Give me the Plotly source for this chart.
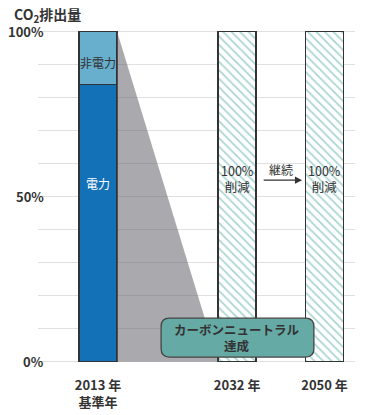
import plotly.graph_objects as go

# ---- data ----
categories = ["2013 年<br>基準年", "2032 年", "2050 年"]
electric = [84, 0, 0]          # 電力 share of 2013 emissions (%)
non_electric = [16, 0, 0]      # 非電力 share (%)
reduced = [0, 100, 100]        # 100% 削減 (hatched)
y_tick_vals = [0, 50, 100]
y_tick_labels = ["0%", "50%", "100%"]

# ---- layout helpers (positions / styles) ----
x_pos = [1.58, 5.24, 7.54]
bar_w = 1.0
FONT = "Noto Sans CJK JP, Noto Sans, sans-serif"
DARK = "#333333"
BLUE = "#1271b7"
LIGHTBLUE = "#68aecd"
TEAL = "#66aaa5"
HATCH = "#4fa9a3"

fig = go.Figure()

total0 = electric[0] + non_electric[0]
# gray wedge from 2013 bar top to 2032 bar base
fig.add_trace(go.Scatter(
    x=[x_pos[0] + bar_w / 2, x_pos[0] + bar_w / 2, x_pos[1] - bar_w / 2, x_pos[0] + bar_w / 2],
    y=[total0, 0, 0, total0],
    mode="lines", fill="toself", fillcolor="rgba(100,100,108,0.55)",
    line=dict(width=0), hoverinfo="skip", showlegend=False))

fig.add_trace(go.Bar(
    x=[x_pos[0]], y=[electric[0]], width=bar_w,
    marker=dict(color=BLUE, line=dict(color=DARK, width=1.5)), showlegend=False))
fig.add_trace(go.Bar(
    x=[x_pos[0]], y=[non_electric[0]], width=bar_w,
    marker=dict(color=LIGHTBLUE, line=dict(color=DARK, width=1.5)), showlegend=False))
fig.add_trace(go.Bar(
    x=x_pos[1:], y=reduced[1:], width=bar_w,
    marker=dict(color="white", line=dict(color=DARK, width=1.5),
                pattern=dict(shape="\\", fgcolor=HATCH, bgcolor="white", size=6, solidity=0.28)),
    showlegend=False))

ann = []
# y tick labels
for v, t in zip(y_tick_vals, y_tick_labels):
    ann.append(dict(x=8 / 317, xref="paper", y=v, yref="y", text=t, showarrow=False,
                    xanchor="right", yanchor="middle",
                    font=dict(family=FONT, size=13, color=DARK, weight="bold")))
# axis title
ann.append(dict(x=-26 / 317, xref="paper", y=1.03, yref="paper", text="CO<sub>2</sub>排出量",
                showarrow=False, xanchor="left", yanchor="middle",
                font=dict(family=FONT, size=14, color=DARK, weight="bold")))
# bar labels
ann.append(dict(x=x_pos[0], y=electric[0] + non_electric[0] / 2 - 1.5, text="非電力", showarrow=False,
                font=dict(family=FONT, size=12, color=DARK)))
ann.append(dict(x=x_pos[0], y=54, text="電力", showarrow=False,
                font=dict(family=FONT, size=12, color="white")))
for xp in x_pos[1:]:
    ann.append(dict(x=xp, y=55.5, text="100%<br>削減", showarrow=False,
                    font=dict(family=FONT, size=12.5, color=DARK)))
# continuation arrow
ann.append(dict(x=x_pos[2] - bar_w / 2 - 0.09, y=55, ax=x_pos[1] + bar_w / 2 + 0.16, ay=55,
                xref="x", yref="y", axref="x", ayref="y", text="", showarrow=True,
                arrowhead=2, arrowsize=1.1, arrowwidth=1.3, arrowcolor=DARK))
ann.append(dict(x=(x_pos[1] + x_pos[2]) / 2, y=58.3, text="継続", showarrow=False,
                font=dict(family=FONT, size=12, color=DARK)))
# carbon neutral callout text
ann.append(dict(x=x_pos[1], y=7.3, text="カーボンニュートラル<br>達成", showarrow=False,
                font=dict(family=FONT, size=12.5, color=DARK, weight="bold")))

# rounded callout box
def rounded_rect(x0, x1, y0, y1, rx, ry):
    return (f"M {x0+rx},{y0} L {x1-rx},{y0} Q {x1},{y0} {x1},{y0+ry} "
            f"L {x1},{y1-ry} Q {x1},{y1} {x1-rx},{y1} L {x0+rx},{y1} "
            f"Q {x0},{y1} {x0},{y1-ry} L {x0},{y0+ry} Q {x0},{y0} {x0+rx},{y0} Z")

bx0, bx1 = x_pos[1] - 2.0, x_pos[1] + 2.02
by0, by1 = 1.4, 13.2
shapes = [dict(type="path", xref="x", yref="y", layer="above",
               path=rounded_rect(bx0, bx1, by0, by1, 0.22, 2.5),
               fillcolor=TEAL, line=dict(color="#444444", width=1.3))]

fig.update_layout(
    width=375, height=415,
    margin=dict(l=38, r=20, t=25, b=50),
    paper_bgcolor="white", plot_bgcolor="white",
    barmode="stack",
    annotations=ann, shapes=shapes,
    xaxis=dict(range=[0, 8.342], showgrid=False, zeroline=False, showline=False,
               tickvals=x_pos, ticktext=categories, ticks="outside", ticklen=8,
               tickcolor="rgba(0,0,0,0)", automargin=False,
               tickfont=dict(family=FONT, size=13, color=DARK, weight="bold")),
    yaxis=dict(range=[-1, 102], tickvals=list(range(0, 101, 10)), showticklabels=False,
               showgrid=True, gridcolor="rgba(0,0,0,0.12)", gridwidth=1,
               zeroline=False, showline=False, automargin=False),
    font=dict(family=FONT),
)

fig.write_html("out.html", config={"displayModeBar": False},
               post_script="document.body.style.margin='0';")
